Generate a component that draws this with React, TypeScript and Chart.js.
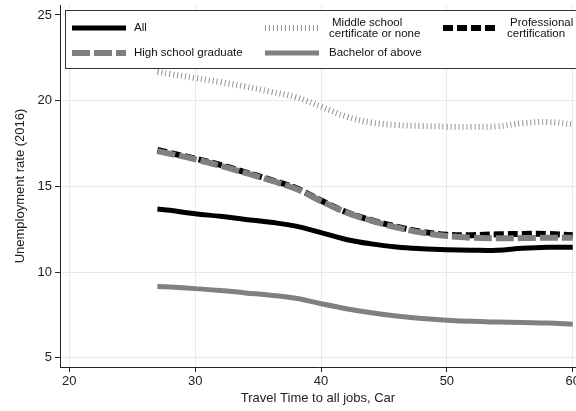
import React, { useEffect, useRef } from "react";
import { Chart, registerables } from "chart.js";

Chart.register(...registerables);

// Travel time (minutes by car) at which the smoothed rates are evaluated
const travelTime = [27, 28, 30, 32, 34, 36, 38, 40, 42, 44, 46, 48, 50, 52, 54, 56, 58, 60];

// Unemployment rate (2016), %, by education level
const allWorkers = [13.68, 13.6, 13.4, 13.25, 13.07, 12.9, 12.68, 12.3, 11.9, 11.64, 11.46, 11.36, 11.3, 11.27, 11.27, 11.38, 11.44, 11.45];
const middleSchool = [21.68, 21.55, 21.32, 21.08, 20.82, 20.52, 20.2, 19.65, 19.07, 18.72, 18.58, 18.52, 18.48, 18.47, 18.5, 18.68, 18.75, 18.62];
const professional = [17.12, 16.95, 16.62, 16.25, 15.82, 15.38, 14.9, 14.17, 13.5, 13.02, 12.65, 12.35, 12.17, 12.15, 12.2, 12.22, 12.22, 12.15];
const highSchool = [17.05, 16.9, 16.58, 16.2, 15.78, 15.34, 14.86, 14.14, 13.48, 13.0, 12.6, 12.3, 12.1, 12.0, 11.97, 11.98, 12.0, 12.0];
const bachelor = [9.16, 9.12, 9.03, 8.92, 8.78, 8.65, 8.47, 8.15, 7.86, 7.62, 7.43, 7.29, 7.19, 7.12, 7.08, 7.05, 7.02, 6.95];

const xTicks = [20, 30, 40, 50, 60];
const yTicks = [5, 10, 15, 20, 25];

type Series = {
  label: string[];
  values: number[];
  color: string;
  width: number;
  dash: number[];
};

const series: Series[] = [
  { label: ["All"], values: allWorkers, color: "#000000", width: 5, dash: [] },
  { label: ["Middle school", "certificate or none"], values: middleSchool, color: "#959595", width: 6, dash: [1, 3] },
  { label: ["Professional", "certification"], values: professional, color: "#000000", width: 6, dash: [10, 4] },
  { label: ["High school graduate"], values: highSchool, color: "#808080", width: 6, dash: [18, 4] },
  { label: ["Bachelor of above"], values: bachelor, color: "#808080", width: 5, dash: [] },
];

const FONT = "'Liberation Sans', Arial, Helvetica, sans-serif";

// Boxed legend in the upper part of the plot: 3 columns, 2 rows
const legendPlugin = {
  id: "boxLegend",
  afterDatasetsDraw(chart: any) {
    const ctx: CanvasRenderingContext2D = chart.ctx;
    const box = { x: 65.5, y: 10.5, w: 520, h: 58 };
    ctx.save();
    ctx.fillStyle = "#ffffff";
    ctx.fillRect(box.x, box.y, box.w, box.h);
    ctx.strokeStyle = "#333333";
    ctx.lineWidth = 1;
    ctx.strokeRect(box.x, box.y, box.w, box.h);

    const cols = [
      { sx: 72, tx: 134 },
      { sx: 265, tx: 329 },
      { sx: 443, tx: 507 },
    ];
    const rows = [28, 53];
    const sampleLen = 54;

    series.forEach((s, i) => {
      const col = cols[i % 3];
      const rowY = rows[Math.floor(i / 3)];
      ctx.beginPath();
      ctx.setLineDash(s.dash);
      ctx.lineCap = "butt";
      ctx.strokeStyle = s.color;
      ctx.lineWidth = s.width;
      ctx.moveTo(col.sx, rowY);
      ctx.lineTo(col.sx + sampleLen, rowY);
      ctx.stroke();
      ctx.setLineDash([]);

      ctx.fillStyle = "#111111";
      ctx.font = `11.5px ${FONT}`;
      ctx.textBaseline = "middle";
      ctx.textAlign = "left";
      if (s.label.length === 1) {
        ctx.fillText(s.label[0], col.tx, rowY);
      } else {
        ctx.fillText(s.label[0], col.tx + 3, rowY - 5.5);
        ctx.fillText(s.label[1], col.tx, rowY + 5.5);
      }
    });
    ctx.restore();
  },
};

export default function App() {
  const canvasRef = useRef<HTMLCanvasElement | null>(null);

  useEffect(() => {
    if (!canvasRef.current) return;
    const datasets = series.map((s, i) => ({
      label: s.label.join(" "),
      data: travelTime.map((t, k) => ({ x: t, y: s.values[k] })),
      borderColor: s.color,
      borderWidth: s.width,
      borderDash: s.dash,
      borderCapStyle: "butt" as const,
      pointRadius: 0,
      tension: 0.4,
      fill: false,
      order: series.length - i,
    }));

    const chart = new Chart(canvasRef.current, {
      type: "line",
      data: { datasets },
      plugins: [legendPlugin],
      options: {
        animation: false,
        responsive: false,
        devicePixelRatio: 1,
        layout: { padding: { top: 5, right: 0, left: 0, bottom: 0 } },
        plugins: {
          legend: { display: false },
          tooltip: { enabled: false },
        },
        scales: {
          x: {
            type: "linear",
            min: 19.26,
            max: 60.26,
            afterBuildTicks: (axis: any) => {
              axis.ticks = xTicks.map((v) => ({ value: v }));
            },
            afterFit: (scale: any) => {
              scale.height = 44;
              scale.paddingLeft = 0;
              scale.paddingRight = 0;
            },
            grid: {
              color: "#e9e9e9",
              lineWidth: 1,
              tickColor: "#222222",
              tickLength: 5,
            },
            border: { color: "#222222", width: 1 },
            ticks: {
              color: "#222222",
              padding: 2,
              maxRotation: 0,
              autoSkip: false,
              font: { family: FONT, size: 13 },
            },
            title: {
              display: true,
              text: "Travel Time to all jobs, Car",
              color: "#222222",
              font: { family: FONT, size: 13 },
              padding: { top: 0, bottom: 5 },
            },
          },
          y: {
            type: "linear",
            min: 4.457,
            max: 25.58,
            afterBuildTicks: (axis: any) => {
              axis.ticks = yTicks.map((v) => ({ value: v }));
            },
            afterFit: (scale: any) => {
              scale.width = 60;
              scale.paddingTop = 0;
              scale.paddingBottom = 0;
            },
            grid: {
              color: "#e9e9e9",
              lineWidth: 1,
              tickColor: "#222222",
              tickLength: 5,
            },
            border: { color: "#222222", width: 1 },
            ticks: {
              color: "#222222",
              padding: 3,
              autoSkip: false,
              font: { family: FONT, size: 13 },
            },
            title: {
              display: true,
              text: "Unemployment rate (2016)",
              color: "#222222",
              font: { family: FONT, size: 13 },
              padding: { top: 13, bottom: 0 },
            },
          },
        },
      },
    });
    return () => chart.destroy();
  }, []);

  return (
    <div style={{ position: "fixed", left: 0, top: 0, width: 576, height: 411, background: "#ffffff" }}>
      <canvas ref={canvasRef} width={576} height={411} style={{ display: "block", width: 576, height: 411 }} />
    </div>
  );
}
